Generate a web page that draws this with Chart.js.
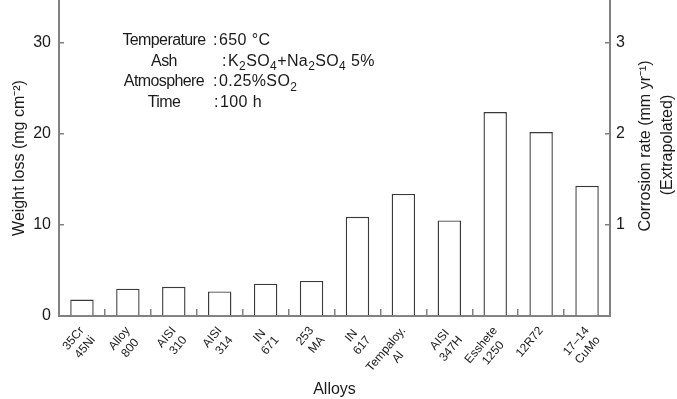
<!DOCTYPE html>
<html><head><meta charset="utf-8">
<script src="https://cdn.jsdelivr.net/npm/chart.js@4/dist/chart.umd.min.js"></script>
<style>html,body{margin:0;padding:0;background:#fff;overflow:hidden}</style>
</head><body>
<canvas id="c" width="677" height="399"></canvas>
<script>
// ---- data ----
const alloys = [['35Cr','45Ni'],['Alloy','800'],['AISI','310'],['AISI','314'],['IN','671'],['253','MA'],['IN','617'],['Tempaloy.','Al'],['AISI','347H'],['Esshete','1250'],['12R72'],['17–14','CuMo']];
const weightLoss = [1.8, 3.0, 3.2, 2.7, 3.55, 3.85, 10.9, 13.4, 10.5, 22.4, 20.2, 14.3];
const leftTicks = [0, 10, 20, 30];
const rightTicks = [1, 2, 3];
const yMax = 34.7;
const condLabels = ['Temperature', 'Ash', 'Atmosphere', 'Time'];
const condValues = ['650 °C', 'K_2SO_4+Na_2SO_4 5%', '0.25%SO_2', '100 h'];

const FONT = '"Liberation Sans", Arial, Helvetica, sans-serif';
const axisColor = '#808080';
const textColor = '#1a1a1a';
const tickFontSize = 12;
Chart.defaults.font.family = FONT;
Chart.defaults.color = textColor;

// centre the lines of each two-line category label (Chart.js right-aligns rotated labels)
const mctx = document.createElement('canvas').getContext('2d');
mctx.font = tickFontSize + 'px ' + FONT;
const spaceW = mctx.measureText(' ').width;
const displayLabels = alloys.map(lines => {
  const ws = lines.map(l => mctx.measureText(l).width);
  const wMax = Math.max(...ws);
  return lines.map((l, i) => l + ' '.repeat(Math.max(0, Math.round((wMax - ws[i]) / 2 / spaceW))));
});

function parseRuns(s) {
  const runs = [];
  let cur = '';
  for (let i = 0; i < s.length; i++) {
    if (s[i] === '_') { if (cur) runs.push({t: cur}); cur = ''; runs.push({t: s[i+1], sub: true}); i++; }
    else cur += s[i];
  }
  if (cur) runs.push({t: cur});
  return runs;
}
function drawRuns(ctx, runs, x, y, size) {
  for (const r of runs) {
    const sz = r.sub ? Math.round(size * 0.72) : size;
    ctx.font = sz + 'px ' + FONT;
    ctx.fillText(r.t, x, y + (r.sub ? size * 0.3 : 0));
    x += ctx.measureText(r.t).width;
  }
}

const annot = {
  id: 'annot',
  afterDraw(chart) {
    const ctx = chart.ctx;
    ctx.save();
    ctx.fillStyle = textColor;
    ctx.textBaseline = 'alphabetic';
    const baselines = [45, 65.5, 86, 107];
    const colonX = [213, 222, 213, 214];
    condLabels.forEach((lab, i) => {
      ctx.letterSpacing = '-0.6px';
      ctx.font = '16px ' + FONT;
      ctx.textAlign = 'center';
      ctx.fillText(lab, 164, baselines[i]);
      ctx.letterSpacing = '0px';
      ctx.textAlign = 'left';
      ctx.fillText(':', colonX[i], baselines[i]);
      ctx.letterSpacing = '0.4px';
      drawRuns(ctx, parseRuns(condValues[i]), colonX[i] + 6, baselines[i], 16);
    });
    ctx.letterSpacing = '0px';
    // right axis title (reads bottom to top)
    ctx.font = '16px ' + FONT;
    ctx.textAlign = 'center';
    ctx.save();
    ctx.translate(650, 146);
    ctx.rotate(-Math.PI / 2);
    ctx.fillText('Corrosion rate (mm yr⁻¹)', 0, 0);
    ctx.restore();
    ctx.save();
    ctx.translate(672, 145);
    ctx.rotate(-Math.PI / 2);
    ctx.fillText('(Extrapolated)', 0, 0);
    ctx.restore();
    ctx.restore();
  }
};

new Chart(document.getElementById('c'), {
  type: 'bar',
  data: {
    labels: displayLabels,
    datasets: [{
      data: weightLoss,
      backgroundColor: '#ffffff',
      borderColor: '#3a3a3a',
      borderWidth: 1.4,
      borderSkipped: 'bottom',
      barPercentage: 0.51,
      categoryPercentage: 1.0,
      yAxisID: 'y'
    }]
  },
  options: {
    responsive: false,
    animation: false,
    layout: {padding: 0},
    plugins: {legend: {display: false}, tooltip: {enabled: false}},
    scales: {
      x: {
        offset: true,
        grid: {display: true, drawOnChartArea: false, offset: true, tickLength: -7, color: axisColor, lineWidth: 1.5},
        border: {display: true, color: axisColor, width: 2},
        ticks: {autoSkip: false, minRotation: 50, maxRotation: 50, padding: 15, font: {size: tickFontSize}, color: textColor},
        title: {display: true, text: 'Alloys', font: {size: 16}, padding: {top: 0, bottom: 0}, color: textColor},
        afterFit: s => { s.height = 83; s.paddingLeft = 0; s.paddingRight = 0; }
      },
      y: {
        position: 'left',
        min: 0, max: yMax, bounds: 'data',
        afterBuildTicks: s => { s.ticks = leftTicks.map(v => ({value: v})); },
        grid: {display: true, drawOnChartArea: false, tickLength: -5, color: axisColor, lineWidth: 1.5},
        border: {display: true, color: axisColor, width: 2},
        ticks: {padding: 13, font: {size: 16}, color: textColor},
        title: {display: true, text: 'Weight loss (mg cm⁻²)', font: {size: 16}, padding: {top: 10, bottom: 0}, color: textColor},
        afterFit: s => { s.width = 59; s.paddingTop = 0; s.paddingBottom = 0; }
      },
      y2: {
        position: 'right',
        min: 0, max: yMax / 10, bounds: 'data',
        afterBuildTicks: s => { s.ticks = rightTicks.map(v => ({value: v})); },
        grid: {display: true, drawOnChartArea: false, tickLength: -5, color: axisColor, lineWidth: 1.5},
        border: {display: true, color: axisColor, width: 2},
        ticks: {padding: 11, font: {size: 16}, color: textColor},
        afterFit: s => { s.width = 67; s.paddingTop = 0; s.paddingBottom = 0; }
      }
    }
  },
  plugins: [annot]
});
</script>
</body></html>
